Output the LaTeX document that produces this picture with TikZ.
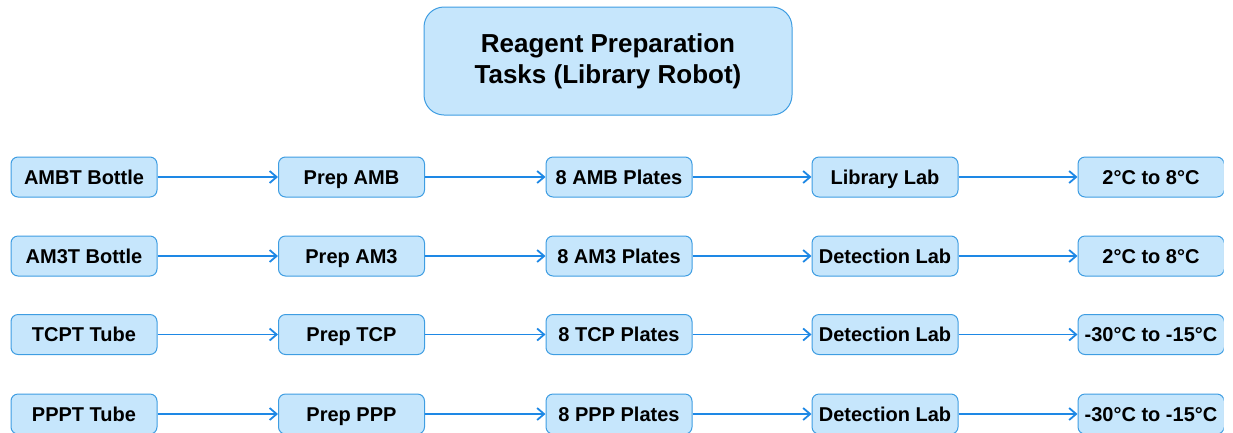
\documentclass[tikz,border=0pt]{standalone}
\usepackage{fontspec}
\setmainfont{Liberation Sans}
\usetikzlibrary{arrows.meta}
\definecolor{boxfill}{HTML}{C6E6FC}
\definecolor{boxline}{HTML}{3E9DE2}
\definecolor{arrowc}{HTML}{1E88E5}
\begin{document}
\begin{tikzpicture}[x=1pt,y=-1pt,
  taskbox/.style={draw=boxline, fill=boxfill, line width=1pt, rounded corners=7pt,
    minimum width=146pt, minimum height=40pt, inner sep=0pt,
    font=\bfseries\fontsize{20}{24}\selectfont, text height=14.3pt, text depth=0pt},
  titlebox/.style={draw=boxline, fill=boxfill, line width=1pt, rounded corners=20pt,
    minimum width=368pt, minimum height=108pt, align=center,
    font=\bfseries\fontsize{26}{31}\selectfont},
  flow/.style={draw=arrowc, line width=1.8pt, -{Straight Barb[length=7pt,width=12pt]}}]
\useasboundingbox (0,0) rectangle (1233,432);
\clip (0,0) rectangle (1223.5,432);

\node[titlebox] (title) at (608,61) {Reagent Preparation\\Tasks (Library Robot)};

% row 1
\node[taskbox] (a1) at (84,177) {AMBT Bottle};
\node[taskbox] (b1) at (351.5,177) {Prep AMB};
\node[taskbox] (c1) at (619,177) {8 AMB Plates};
\node[taskbox] (d1) at (885,177) {Library Lab};
\node[taskbox] (e1) at (1151,177) {2°C to 8°C};
% row 2
\node[taskbox] (a2) at (84,256) {AM3T Bottle};
\node[taskbox] (b2) at (351.5,256) {Prep AM3};
\node[taskbox] (c2) at (619,256) {8 AM3 Plates};
\node[taskbox] (d2) at (885,256) {Detection Lab};
\node[taskbox] (e2) at (1151,256) {2°C to 8°C};
% row 3
\node[taskbox] (a3) at (84,334.5) {TCPT Tube};
\node[taskbox] (b3) at (351.5,334.5) {Prep TCP};
\node[taskbox] (c3) at (619,334.5) {8 TCP Plates};
\node[taskbox] (d3) at (885,334.5) {Detection Lab};
\node[taskbox] (e3) at (1151,334.5) {-30°C to -15°C};
% row 4
\node[taskbox] (a4) at (84,414) {PPPT Tube};
\node[taskbox] (b4) at (351.5,414) {Prep PPP};
\node[taskbox] (c4) at (619,414) {8 PPP Plates};
\node[taskbox] (d4) at (885,414) {Detection Lab};
\node[taskbox] (e4) at (1151,414) {-30°C to -15°C};

\foreach \r in {1,2,3,4} {
  \draw[flow] (a\r) -- (b\r);
  \draw[flow] (b\r) -- (c\r);
  \draw[flow] (c\r) -- (d\r);
  \draw[flow] (d\r) -- (e\r);
}
\end{tikzpicture}
\end{document}
